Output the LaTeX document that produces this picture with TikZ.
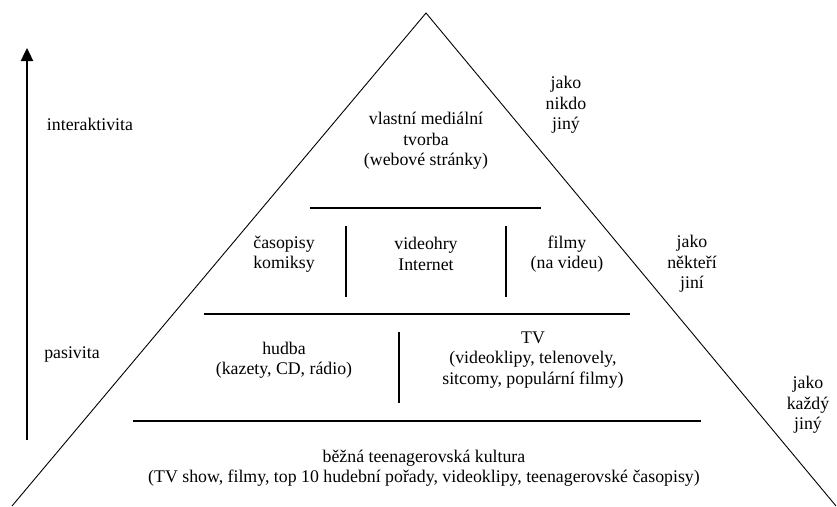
\documentclass[tikz,border=0pt]{standalone}
\usepackage{fontspec}
\setmainfont{LiberationSerif}[Extension=.ttf,UprightFont=*-Regular]
\usetikzlibrary{arrows.meta}
\begin{document}
\begin{tikzpicture}[x=1pt,y=-1pt,
  lbl/.style={inner sep=0pt,align=center,font=\fontsize{17.8pt}{20.5pt}\selectfont},
  side/.style={line width=0.9pt},
  shelf/.style={line width=1.2pt},
  sep/.style={line width=1.1pt},
  axis/.style={line width=2.4pt,-{Triangle[length=13pt,width=12pt]}}]
\useasboundingbox (0,0) rectangle (837,506);
% triangle
\coordinate (apex) at (426,13);
\coordinate (bl) at (12,506);
\coordinate (br) at (836,506);
\draw[side] (bl) -- (apex) -- (br);
% shelves
\coordinate (h1a) at (310,208); \coordinate (h1b) at (541,208);
\coordinate (h2a) at (204,314); \coordinate (h2b) at (630,314);
\coordinate (h3a) at (133,421); \coordinate (h3b) at (701,421);
\draw[shelf] (h1a) -- (h1b);
\draw[shelf] (h2a) -- (h2b);
\draw[shelf] (h3a) -- (h3b);
% separators
\coordinate (v1a) at (346,226); \coordinate (v1b) at (346,297);
\coordinate (v2a) at (506,226); \coordinate (v2b) at (506,297);
\coordinate (v3a) at (399,332); \coordinate (v3b) at (399,403);
\draw[sep] (v1a) -- (v1b);
\draw[sep] (v2a) -- (v2b);
\draw[sep] (v3a) -- (v3b);
% axis arrow
\coordinate (ax0) at (27,440);
\coordinate (ax1) at (27,48);
\draw[axis] (ax0) -- (ax1);
% labels
\node[lbl] (inter) at (90,124) {interaktivita};
\node[lbl] (pas) at (72,354) {pasivita};
\node[lbl] (top) at (426,141) {vlastní mediální\\tvorba\\(webové stránky)};
\node[lbl] (nikdo) at (566,105) {jako\\nikdo\\jiný};
\node[lbl] (cas) at (284,254) {časopisy\\komiksy};
\node[lbl] (video) at (426,254) {videohry\\Internet};
\node[lbl] (filmy) at (567,254) {filmy\\(na videu)};
\node[lbl] (nekt) at (692,264) {jako\\někteří\\jiní};
\node[lbl] (hudba) at (284,360) {hudba\\(kazety, CD, rádio)};
\node[lbl] (tv) at (533,360) {TV\\(videoklipy, telenovely,\\sitcomy, populární filmy)};
\node[lbl] (kazdy) at (808,405) {jako\\každý\\jiný};
\node[lbl] (bezna) at (424,468) {běžná teenagerovská kultura\\(TV show, filmy, top 10 hudební pořady, videoklipy, teenagerovské časopisy)};
\end{tikzpicture}
\end{document}
